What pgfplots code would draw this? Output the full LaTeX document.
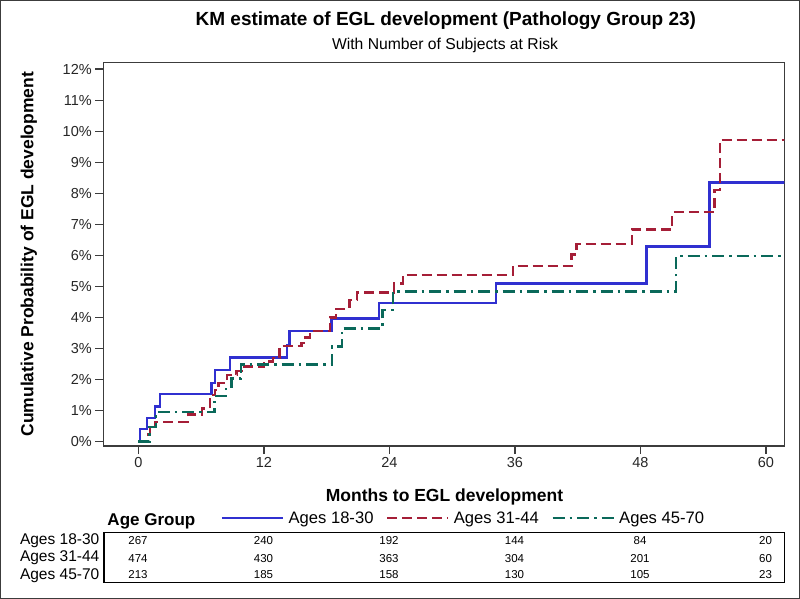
\documentclass[border=0pt]{standalone}
\usepackage{fontspec}
\setmainfont{Liberation Sans}
\usepackage{pgfplots}
\pgfplotsset{compat=1.18}
\definecolor{cblue}{RGB}{48,48,208}
\definecolor{cred}{RGB}{165,30,55}
\definecolor{cgreen}{RGB}{10,105,90}
\definecolor{cframe}{RGB}{60,60,60}
\newcommand{\fs}[1]{\fontsize{#1}{#1}\selectfont}
\begin{document}
\begin{tikzpicture}
\begin{axis}[
  scale only axis, width=681pt, height=383.7pt,
  xmin=-3.35, xmax=61.76, ymin=-0.14, ymax=12.22,
  xtick={0,12,24,36,48,60}, ytick={0,1,...,12},
  yticklabel={\pgfmathprintnumber{\tick}\%},
  /pgf/number format/assume math mode=true,
  tick align=outside, tick pos=left, major tick length=8pt,
  axis line style={line width=1.3pt, cframe},
  every tick/.style={line width=1.3pt, cframe},
  tick label style={font=\fs{14.5}, text=black!85},
  xlabel={\bfseries Months to EGL development},
  ylabel={\bfseries Cumulative Probability of EGL development},
  label style={font=\fs{17.5}},
  xlabel style={at={(axis description cs:0.501,-0.1441)}, anchor=base},
  ylabel style={at={(axis description cs:-0.1028,0.5)}, anchor=base},
  title={\bfseries KM estimate of EGL development (Pathology Group 23)},
  title style={font=\fs{19}, at={(axis description cs:0.503,1.079)}, anchor=base},
  legend columns=3,
  legend style={draw=none, fill=none, font=\fs{16.6}, inner sep=0pt,
    nodes={inner sep=1.5pt},
    at={(axis description cs:0.1721,-0.1876)}, anchor=west,
    /tikz/every odd column/.append style={column sep=3pt},
    /tikz/every even column/.append style={column sep=11pt}},
  legend cell align=left,
  legend image code/.code={\draw[#1] (0pt,0pt) -- (61pt,0pt);},
  every axis plot/.append style={line width=2.4pt, const plot},
]
\addplot[cblue] coordinates {
(0,0) (0.16,0.40) (0.8,0.76) (1.6,1.13) (2.05,1.53) (7.0,1.89) (7.33,2.31)
(8.75,2.71) (14.2,3.11) (14.45,3.56) (18.45,3.97) (23.0,4.46) (34.2,5.09)
(48.6,6.28) (54.6,8.35) (62,8.35)};
\addlegendentry{Ages 18-30}
\addplot[cred, dash pattern=on 10pt off 5pt] coordinates {
(0,0) (0.9,0.24) (1.12,0.48) (1.6,0.64) (4.75,0.88) (6.06,1.07) (6.85,1.5)
(7.33,1.66) (7.65,1.88) (8.45,2.15) (9.4,2.27) (10.0,2.42) (12.0,2.58)
(12.9,2.70) (13.5,3.08) (15.6,3.18) (16.0,3.35) (16.4,3.56) (18.3,4.0)
(18.9,4.28) (20.2,4.56) (20.9,4.81) (24.45,5.10) (25.3,5.37) (35.8,5.66)
(41.4,6.03) (41.9,6.37) (47.2,6.84) (51.05,7.39) (55.07,8.1) (55.6,9.72) (62,9.72)};
\addlegendentry{Ages 31-44}
\addplot[cgreen, dash pattern=on 12pt off 5pt on 2.5pt off 5pt] coordinates {
(0,0) (1.05,0.48) (1.7,0.95) (7.3,1.47) (8.4,1.77) (8.9,2.04) (9.8,2.49)
(18.5,3.06) (19.45,3.65) (23.35,4.24) (24.35,4.84) (51.4,5.98) (62,5.98)};
\addlegendentry{Ages 45-70}
\end{axis}
\begin{scope}[x=1pt,y=1pt,shift={(-103.3pt,-153pt)}]
\pgfresetboundingbox
\useasboundingbox (0,0) rectangle (800,599);
\draw[cframe, line width=1.5pt] (0.75,0.75) rectangle (799.25,598.25);
% subtitle
\node[font=\fs{15.7}, anchor=base] at (445,549) {With Number of Subjects at Risk};
% legend title
\node[font=\fs{17}\bfseries, anchor=base west, inner sep=0pt] at (107.3,74) {Age Group};
% at-risk table
\draw[black, line width=1.3pt] (104,66.3) rectangle (784.3,16.3);
\node[font=\fs{15.5}, anchor=base east, inner sep=0pt] at (99.5,54) {Ages 18-30};
\node[font=\fs{15.5}, anchor=base east, inner sep=0pt] at (99.5,37.3) {Ages 31-44};
\node[font=\fs{15.5}, anchor=base east, inner sep=0pt] at (99.5,20) {Ages 45-70};
\foreach \m/\a/\b/\c in {0/267/474/213, 12/240/430/185, 24/192/363/158, 36/144/304/130, 48/84/201/105, 60/20/60/23}{
  \node[font=\fs{11.5}, anchor=base, inner sep=0pt] at ({138.0+10.459*\m},54) {\a};
  \node[font=\fs{11.5}, anchor=base, inner sep=0pt] at ({138.0+10.459*\m},37) {\b};
  \node[font=\fs{11.5}, anchor=base, inner sep=0pt] at ({138.0+10.459*\m},20.5) {\c};
}
\end{scope}
\end{tikzpicture}
\end{document}
